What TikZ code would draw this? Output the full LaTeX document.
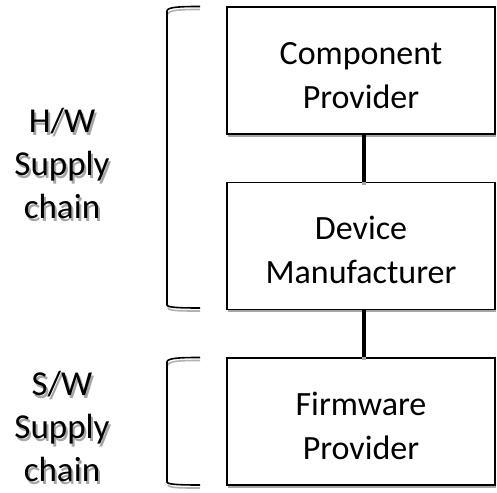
\documentclass[tikz,border=0pt]{standalone}
\usepackage{fontspec}
\setmainfont{Carlito}
\usetikzlibrary{shadows,calc}

% text with a soft grey shadow underneath
\newcommand{\shtxt}[1]{\makebox[0pt][l]{\hspace{2pt}\raisebox{-3pt}{\textcolor{black!35}{#1}}}#1}
% two centred lines, set a little below the middle of a box
\newcommand{\twolines}[2]{\raisebox{-7pt}[\height][\depth]{\begin{tabular}{@{}c@{}}#1\\#2\end{tabular}}}

\tikzset{
  stagebox/.style={draw=black, line width=1.6pt, fill=white,
    minimum width=268pt, minimum height=127pt, inner sep=0pt,
    align=center, font=\fontsize{34}{44}\selectfont,
    drop shadow={shadow xshift=1pt, shadow yshift=-3pt, opacity=1, fill=black!35}},
  chainlabel/.style={align=center, font=\fontsize{35}{43}\selectfont, inner sep=0pt},
  link/.style={line width=3.6pt, black},
  linkshadow/.style={line width=3.6pt, black!35},
  bracket/.style={line width=1.6pt, black},
  bracketshadow/.style={line width=1.6pt, black!30},
}

\begin{document}
\begin{tikzpicture}[x=1pt,y=1pt]
  \useasboundingbox (0,0) rectangle (497,492);

  % stages of the supply chain
  \node[stagebox] (comp) at (361,421.5) {\twolines{Component}{Provider}};
  \node[stagebox] (dev)  at (361,246)   {\twolines{Device}{Manufacturer}};
  \node[stagebox] (fw)   at (361,70.5)  {\twolines{Firmware}{Provider}};

  \coordinate (lx) at (364,0);

  % links between stages
  \draw[linkshadow] ($(comp.south -| lx)+(0,-3)$) -- ($(dev.north -| lx)+(0,-3)$);
  \draw[link] (comp.south -| lx) -- (dev.north -| lx);
  \draw[linkshadow] ($(dev.south -| lx)+(0,-3)$) -- ($(fw.north -| lx)+(0,-3)$);
  \draw[link] (dev.south -| lx) -- (fw.north -| lx);

  % bracket for the hardware part
  \coordinate (hwT) at (200,485.5);
  \coordinate (hwB) at (200,184);
  \draw[bracketshadow] ($(hwT)+(0,-3)$) .. controls (180,482.5) and (169,482) .. (168,478);
  \draw[bracketshadow] ($(hwB)+(0,-3)$) .. controls (180,181) and (169,181) .. (168,184);
  \draw[bracket] (hwT) .. controls (180,485.5) and (167,485) .. (167,481)
     -- (167,187) .. controls (167,184.5) and (180,184) .. (hwB);

  % bracket for the software part
  \coordinate (swT) at (200,134.5);
  \coordinate (swB) at (200,7);
  \draw[bracketshadow] ($(swT)+(0,-3)$) .. controls (180,131.5) and (169,131) .. (168,127);
  \draw[bracketshadow] ($(swB)+(0,-3)$) .. controls (180,4) and (169,4) .. (168,7);
  \draw[bracket] (swT) .. controls (180,134.5) and (167,134) .. (167,130)
     -- (167,10) .. controls (167,7.5) and (180,7) .. (swB);

  % side labels
  \node[chainlabel] (hw) at (62,327) {\shtxt{H/W}\\\shtxt{Supply}\\\shtxt{chain}};
  \node[chainlabel] (sw) at (62,64)  {\shtxt{S/W}\\\shtxt{Supply}\\\shtxt{chain}};
\end{tikzpicture}
\end{document}
